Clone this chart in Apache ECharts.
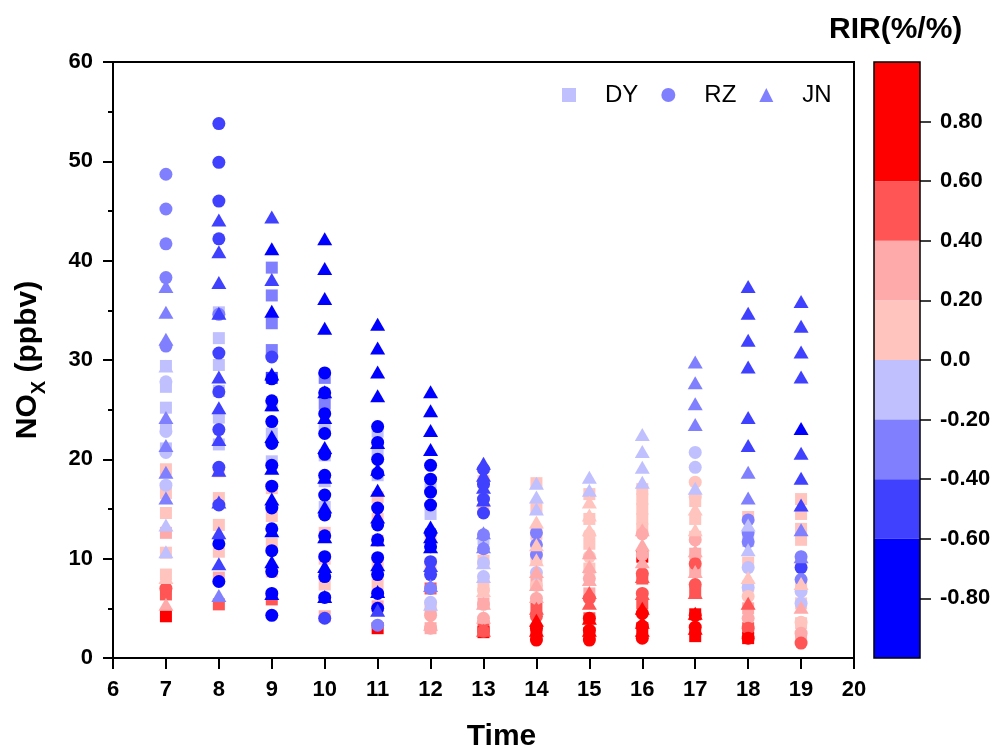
<!DOCTYPE html>
<html>
<head>
<meta charset="utf-8">
<script src="https://cdn.jsdelivr.net/npm/echarts@6/dist/echarts.min.js"></script>
<style>
  html, body { margin: 0; padding: 0; background: #fff; }
  #chart { width: 993px; height: 747px; }
</style>
</head>
<body>
<div id="chart"></div>
<script>
// hours on the x axis
const HOURS = [7, 8, 9, 10, 11, 12, 13, 14, 15, 16, 17, 18, 19];

// [NOx (ppbv), RIR (%/%)] per hour, one list per site
const DY = [
  [[29.4,-0.1],[27.3,-0.1],[25.2,-0.1],[23.2,-0.1],[21.1,-0.1],[19.0,0.1],[16.6,0.1],[14.6,0.1],[12.6,0.3],[10.6,0.1],[8.4,0.1],[6.4,0.5],[4.2,0.8]],
  [[34.8,-0.1],[32.2,-0.1],[29.5,-0.1],[26.9,-0.1],[24.2,-0.1],[21.5,-0.1],[18.8,0.1],[16.1,0.1],[13.4,0.1],[10.7,0.1],[8.1,0.3],[5.4,0.5]],
  [[39.3,-0.3],[36.5,-0.3],[33.7,-0.3],[31.0,-0.3],[28.2,-0.5],[25.4,-0.1],[22.6,-0.1],[19.8,-0.1],[17.1,0.1],[14.3,0.1],[11.5,0.1],[8.7,0.1],[5.9,0.5]],
  [[28.2,-0.3],[25.6,-0.3],[23.0,-0.1],[20.4,-0.1],[17.8,-0.1],[15.2,-0.1],[12.6,0.1],[10.0,0.1],[7.4,0.1],[4.2,0.3]],
  [[22.8,-0.1],[20.6,-0.1],[18.4,-0.1],[16.2,0.1],[14.0,0.1],[11.8,0.1],[9.6,0.1],[7.4,0.1],[5.2,0.3],[3.0,0.8]],
  [[17.0,-0.1],[14.5,-0.1],[12.0,0.1],[9.5,0.1],[7.0,0.5],[5.0,0.3],[3.0,0.3]],
  [[17.8,0.1],[15.0,0.1],[12.0,-0.1],[9.8,0.1],[7.5,0.1],[5.5,0.3],[3.2,0.5],[2.6,0.8]],
  [[17.6,0.1],[15.0,0.1],[12.5,0.1],[10.0,0.1],[7.5,0.3],[5.0,0.5],[2.6,0.8]],
  [[16.5,0.1],[14.0,0.1],[11.5,0.1],[9.0,0.1],[6.5,0.3],[4.0,0.5],[2.5,0.8]],
  [[17.0,0.1],[16.0,0.1],[15.0,0.1],[14.0,0.1],[13.0,0.1],[10.2,0.8],[8.0,0.5],[5.5,0.5],[3.0,0.8]],
  [[15.8,0.1],[14.0,0.1],[12.2,0.1],[10.5,0.3],[8.8,0.3],[6.6,0.5],[4.4,0.8],[2.2,0.8]],
  [[14.2,0.1],[11.8,-0.1],[9.6,0.1],[7.2,0.1],[5.0,0.3],[3.0,0.5],[2.0,0.8]],
  [[16.0,0.1],[14.5,0.1],[13.0,0.1],[11.9,0.1],[9.5,0.1],[7.5,0.1],[5.5,0.1],[3.5,0.1],[2.0,0.3]]
];
const RZ = [
  [[48.7,-0.3],[45.2,-0.3],[41.7,-0.3],[38.3,-0.3],[31.4,-0.3],[27.8,-0.1],[22.8,-0.1],[20.7,-0.1],[17.4,-0.1],[7.0,0.5]],
  [[53.8,-0.5],[49.9,-0.5],[46.0,-0.5],[42.2,-0.5],[34.6,-0.3],[30.7,-0.5],[26.8,-0.5],[23.0,-0.5],[19.2,-0.5],[15.4,-0.5],[11.5,-0.8],[7.7,-0.8]],
  [[30.3,-0.5],[28.1,-0.8],[25.9,-0.8],[23.8,-0.8],[21.6,-0.8],[19.4,-0.8],[17.3,-0.8],[15.1,-0.8],[13.0,-0.8],[10.8,-0.8],[8.7,-0.8],[6.5,-0.8],[4.3,-0.8]],
  [[28.7,-0.8],[26.7,-0.8],[24.6,-0.8],[22.6,-0.8],[20.5,-0.8],[18.4,-0.8],[16.4,-0.8],[14.4,-0.8],[12.3,-0.8],[10.2,-0.8],[8.2,-0.8],[6.1,-0.8],[4.0,-0.5]],
  [[23.3,-0.8],[21.7,-0.8],[20.0,-0.8],[18.6,-0.8],[15.1,-0.8],[13.4,-0.8],[11.9,-0.8],[10.1,-0.8],[8.4,-0.8],[6.5,-0.8],[5.0,-0.8],[3.3,-0.3]],
  [[19.4,-0.8],[18.0,-0.8],[16.7,-0.8],[15.4,-0.8],[12.6,-0.8],[11.2,-0.8],[9.7,-0.5],[8.4,-0.5],[7.0,-0.3],[5.6,-0.1],[4.3,0.3],[3.0,0.3]],
  [[19.0,-0.5],[17.5,-0.5],[16.0,-0.5],[14.6,-0.5],[12.4,-0.3],[11.0,-0.3],[9.6,-0.1],[8.2,-0.1],[6.8,0.1],[5.4,0.3],[4.0,0.3],[2.7,0.5]],
  [[12.6,-0.3],[11.4,-0.3],[10.4,-0.3],[8.6,-0.1],[7.3,0.1],[6.0,0.3],[4.2,0.5],[3.0,0.8],[1.8,0.8]],
  [[12.4,0.1],[10.2,0.1],[8.0,0.3],[6.0,0.5],[4.0,0.8],[2.8,0.8],[1.8,0.8]],
  [[12.5,0.3],[10.4,0.3],[8.5,0.5],[6.5,0.5],[4.5,0.8],[3.2,0.8],[2.0,0.8]],
  [[20.7,-0.1],[19.2,-0.1],[17.7,0.1],[16.2,0.1],[11.9,0.3],[9.5,0.5],[7.4,0.5],[4.3,0.8],[3.1,0.8]],
  [[13.9,-0.3],[12.6,-0.3],[11.7,-0.3],[9.1,-0.1],[7.1,-0.1],[6.2,0.1],[4.0,0.3],[3.0,0.5],[2.0,0.8]],
  [[10.2,-0.3],[9.1,-0.5],[7.9,-0.3],[6.7,-0.1],[5.5,-0.1],[3.6,0.1],[2.5,0.3],[1.5,0.5]]
];
const JN = [
  [[37.4,-0.3],[34.8,-0.3],[32.1,-0.3],[29.4,-0.1],[24.2,-0.3],[21.4,-0.3],[18.7,-0.3],[16.1,-0.3],[13.4,-0.1],[10.7,-0.1],[8.1,0.1],[5.4,0.3]],
  [[44.1,-0.5],[40.9,-0.5],[37.8,-0.5],[34.7,-0.5],[28.3,-0.5],[25.2,-0.5],[22.0,-0.5],[18.9,-0.5],[15.7,-0.5],[12.6,-0.5],[9.5,-0.5],[6.3,-0.3]],
  [[44.4,-0.5],[41.2,-0.8],[38.1,-0.5],[34.9,-0.8],[28.6,-0.8],[25.5,-0.8],[22.3,-0.8],[19.1,-0.8],[16.0,-0.8],[12.8,-0.8],[9.7,-0.8],[6.5,-0.8]],
  [[42.2,-0.8],[39.2,-0.8],[36.2,-0.8],[33.2,-0.8],[26.8,-0.8],[24.2,-0.8],[21.2,-0.8],[18.2,-0.8],[15.2,-0.8],[12.2,-0.8],[9.2,-0.8],[6.2,-0.8]],
  [[33.6,-0.8],[31.2,-0.8],[28.8,-0.8],[26.4,-0.8],[21.7,-0.8],[19.0,-0.8],[16.9,-0.8],[14.2,-0.8],[11.9,-0.8],[9.4,-0.8],[6.7,-0.8],[4.8,-0.5]],
  [[26.8,-0.8],[24.9,-0.8],[22.9,-0.8],[21.0,-0.8],[13.2,-0.8],[12.2,-0.8],[11.2,-0.8],[9.3,-0.5],[7.3,-0.3],[5.4,-0.1],[3.4,0.3]],
  [[19.6,-0.5],[18.4,-0.5],[17.2,-0.5],[15.9,-0.5],[12.6,-0.3],[11.2,-0.3],[9.6,-0.1],[8.2,-0.1],[6.8,0.1],[5.5,0.3],[4.1,0.3],[2.8,0.5]],
  [[17.6,-0.1],[16.2,-0.1],[15.0,-0.1],[13.7,0.1],[11.4,0.1],[9.9,0.1],[8.7,0.3],[7.4,0.3],[6.2,0.3],[5.0,0.5],[3.8,0.8],[2.8,0.8]],
  [[18.2,-0.1],[16.9,-0.1],[15.7,0.1],[14.4,0.1],[12.9,0.1],[10.6,0.3],[9.2,0.3],[7.9,0.3],[6.6,0.5],[5.5,0.5],[4.0,0.8],[2.8,0.8]],
  [[22.5,-0.1],[20.8,-0.1],[19.2,-0.1],[17.7,-0.1],[12.9,0.3],[11.4,0.3],[9.7,0.3],[8.2,0.5],[6.5,0.5],[5.0,0.8],[3.6,0.8],[2.8,0.8]],
  [[29.8,-0.3],[27.7,-0.3],[25.6,-0.3],[23.5,-0.3],[17.1,-0.1],[15.0,0.1],[12.9,0.1],[10.8,0.3],[8.7,0.3],[6.6,0.5],[4.5,0.8],[3.0,0.8]],
  [[37.4,-0.5],[34.7,-0.5],[32.0,-0.5],[29.3,-0.5],[24.2,-0.5],[21.4,-0.5],[18.7,-0.3],[16.1,-0.3],[13.4,-0.1],[10.9,-0.1],[8.1,0.1],[5.5,0.5]],
  [[35.9,-0.5],[33.4,-0.5],[30.8,-0.5],[28.3,-0.5],[23.1,-0.8],[20.6,-0.5],[18.1,-0.5],[15.4,-0.5],[12.9,-0.3],[10.2,-0.3],[7.5,0.1],[5.1,0.3]]
];

// RIR colour classes
const RIR_EDGES = [-1, -0.6, -0.4, -0.2, 0, 0.2, 0.4, 0.6, 1];
const RIR_COLORS = ['#0000ff', '#4040ff', '#8080ff', '#c0c0ff', '#ffc4be', '#ffaaaa', '#ff5555', '#ff0000'];
const RIR_TICKS = [0.8, 0.6, 0.4, 0.2, 0, -0.2, -0.4, -0.6, -0.8];

const FONT = 'Liberation Sans, Arial, sans-serif';

function toPoints(rows) {
  const out = [];
  rows.forEach((list, i) => {
    list.forEach(p => out.push([HOURS[i], p[0], p[1]]));
  });
  return out;
}

const pieces = RIR_COLORS.map((c, k) => ({ gte: RIR_EDGES[k], lt: RIR_EDGES[k + 1], color: c }));

// colour bar: stack outward from 0 so each class sits between its edges
const barOrder = [3, 2, 1, 0, 4, 5, 6, 7];
const colorBarSeries = barOrder.map(k => ({
  type: 'bar',
  xAxisIndex: 1,
  yAxisIndex: 1,
  stack: 'cb',
  barWidth: '100%',
  silent: true,
  itemStyle: { color: RIR_COLORS[k] },
  data: [RIR_EDGES[k] >= 0 ? RIR_EDGES[k + 1] - RIR_EDGES[k] : RIR_EDGES[k] - RIR_EDGES[k + 1]]
}));

const axisLineStyle = { color: '#000', width: 2 };
const tickLabel = { color: '#000', fontSize: 22, fontWeight: 'bold', fontFamily: FONT };

const chart = echarts.init(document.getElementById('chart'), null, { renderer: 'canvas' });

chart.setOption({
  animation: false,
  backgroundColor: '#fff',
  textStyle: { fontFamily: FONT },
  title: {
    text: 'RIR(%/%)',
    left: 829,
    top: 15,
    padding: 0,
    textStyle: { color: '#000', fontSize: 30, fontWeight: 'bold', fontFamily: FONT }
  },
  legend: {
    left: 557,
    top: 78,
    orient: 'horizontal',
    itemWidth: 14,
    itemHeight: 14,
    itemGap: 23,
    textStyle: { color: '#000', fontSize: 24, fontFamily: FONT, padding: [0, 0, 0, 24] },
    data: ['DY', 'RZ', 'JN']
  },
  grid: [
    { left: 113, right: 139, top: 62, bottom: 89, show: true, z: 5, outerBoundsMode: 'none',
      backgroundColor: 'transparent', borderColor: '#000', borderWidth: 2 },
    { left: 874, width: 46, top: 62, bottom: 89, show: true, z: 5, outerBoundsMode: 'none',
      backgroundColor: 'transparent', borderColor: '#000', borderWidth: 1.5 }
  ],
  xAxis: [
    {
      type: 'value', gridIndex: 0, min: 6, max: 20, interval: 1,
      name: 'Time', nameLocation: 'middle', nameGap: 64,
      nameTextStyle: { color: '#000', fontSize: 30, fontWeight: 'bold', fontFamily: FONT, padding: [0, 0, 0, 36] },
      axisLine: { show: true, onZero: false, lineStyle: axisLineStyle },
      axisTick: { show: true, length: 11, lineStyle: axisLineStyle },
      axisLabel: Object.assign({ margin: 21 }, tickLabel),
      splitLine: { show: false }
    },
    {
      type: 'category', gridIndex: 1, data: ['RIR'], show: false
    }
  ],
  yAxis: [
    {
      type: 'value', gridIndex: 0, min: 0, max: 60, interval: 10,
      name: '{a|NO}{b|X}{a| (ppbv)}', nameLocation: 'middle', nameGap: 70, nameRotate: 90,
      nameTextStyle: {
        color: '#000', fontSize: 30, fontWeight: 'bold', fontFamily: FONT,
        rich: {
          a: { fontSize: 30, fontWeight: 'bold', fontFamily: FONT, color: '#000' },
          b: { fontSize: 20, fontWeight: 'bold', fontFamily: FONT, color: '#000', verticalAlign: 'bottom', padding: [0, 0, -6, 0] }
        }
      },
      axisLine: { show: true, onZero: false, lineStyle: axisLineStyle },
      axisTick: { show: true, length: 10, lineStyle: axisLineStyle },
      minorTick: { show: true, splitNumber: 2, length: 5, lineStyle: axisLineStyle },
      axisLabel: Object.assign({ margin: 20 }, tickLabel),
      splitLine: { show: false },
      minorSplitLine: { show: false }
    },
    {
      type: 'value', gridIndex: 1, min: -1, max: 1, position: 'right',
      axisLine: { show: false },
      axisTick: { show: true, length: 11, customValues: RIR_TICKS, lineStyle: { color: '#000', width: 1.5 } },
      axisLabel: Object.assign({
        margin: 20,
        customValues: RIR_TICKS,
        formatter: v => (Math.abs(v) < 1e-9 ? '0.0' : v.toFixed(2))
      }, tickLabel),
      splitLine: { show: false }
    }
  ],
  visualMap: {
    type: 'piecewise',
    show: false,
    dimension: 2,
    seriesIndex: [0, 1, 2],
    pieces: pieces
  },
  series: [
    { name: 'DY', type: 'scatter', symbol: 'rect', symbolSize: 12,
      itemStyle: { color: '#c0c0ff', opacity: 1 }, data: toPoints(DY) },
    { name: 'RZ', type: 'scatter', symbol: 'circle', symbolSize: 13,
      itemStyle: { color: '#8080ff', opacity: 1 }, data: toPoints(RZ) },
    { name: 'JN', type: 'scatter', symbol: 'triangle', symbolSize: [15, 13],
      itemStyle: { color: '#8080ff', opacity: 1 }, data: toPoints(JN) }
  ].concat(colorBarSeries)
});
</script>
</body>
</html>
